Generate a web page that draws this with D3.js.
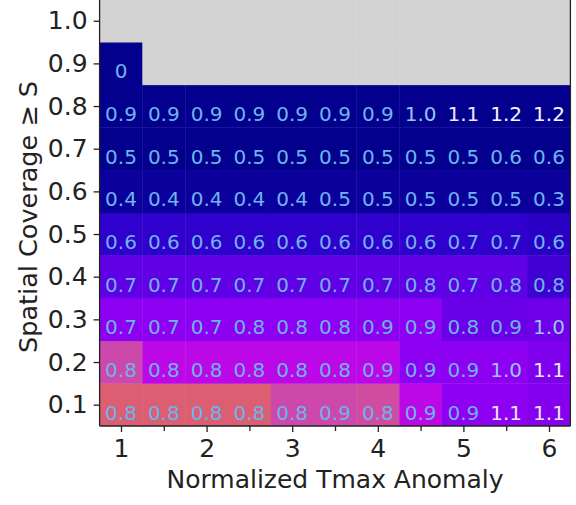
<!DOCTYPE html>
<html>
<head>
<meta charset="utf-8">
<script src="https://cdn.jsdelivr.net/npm/d3@7"></script>
<style>
  html, body { margin: 0; padding: 0; background: #ffffff; }
  svg { display: block; }
  text { font-family: "DejaVu Sans", sans-serif; }
</style>
</head>
<body>
<svg id="chart" width="576" height="505"></svg>
<script>
// ---- data ----
const anomalyBins = [1, 1.5, 2, 2.5, 3, 3.5, 4, 4.5, 5, 5.5, 6];
const coverageBins = [0.1, 0.2, 0.3, 0.4, 0.5, 0.6, 0.7, 0.8, 0.9, 1.0];
const xTickValues = [1, 2, 3, 4, 5, 6];
const xMinorTickValues = [1.5, 2.5, 3.5, 4.5, 5.5];
const yTickValues = [0.1, 0.2, 0.3, 0.4, 0.5, 0.6, 0.7, 0.8, 0.9, 1.0];
const xLabel = "Normalized Tmax Anomaly";
const yLabel = "Spatial Coverage \u2265 S";

// annotated values, one row per coverage bin (0.1 -> 1.0); null = no data
const cov01 = [0.8, 0.8, 0.8, 0.8, 0.8, 0.9, 0.8, 0.9, 0.9, 1.1, 1.1];
const cov02 = [0.8, 0.8, 0.8, 0.8, 0.8, 0.8, 0.9, 0.9, 0.9, 1.0, 1.1];
const cov03 = [0.7, 0.7, 0.7, 0.8, 0.8, 0.8, 0.9, 0.9, 0.8, 0.9, 1.0];
const cov04 = [0.7, 0.7, 0.7, 0.7, 0.7, 0.7, 0.7, 0.8, 0.7, 0.8, 0.8];
const cov05 = [0.6, 0.6, 0.6, 0.6, 0.6, 0.6, 0.6, 0.6, 0.7, 0.7, 0.6];
const cov06 = [0.4, 0.4, 0.4, 0.4, 0.4, 0.5, 0.5, 0.5, 0.5, 0.5, 0.3];
const cov07 = [0.5, 0.5, 0.5, 0.5, 0.5, 0.5, 0.5, 0.5, 0.5, 0.6, 0.6];
const cov08 = [0.9, 0.9, 0.9, 0.9, 0.9, 0.9, 0.9, 1.0, 1.1, 1.2, 1.2];
const cov09 = [0, null, null, null, null, null, null, null, null, null, null];
const cov10 = [null, null, null, null, null, null, null, null, null, null, null];
const cellValues = [cov01, cov02, cov03, cov04, cov05, cov06, cov07, cov08, cov09, cov10];

// colour-mapped quantity (normalised 0..1), same layout
const shade01 = [1.0, 1.0, 1.0, 1.0, 0.88, 0.88, 0.9, 0.76, 0.6, 0.6, 0.57];
const shade02 = [0.88, 0.76, 0.76, 0.76, 0.76, 0.76, 0.76, 0.6, 0.6, 0.6, 0.55];
const shade03 = [0.6, 0.6, 0.6, 0.6, 0.6, 0.6, 0.6, 0.6, 0.48, 0.48, 0.5];
const shade04 = [0.45, 0.45, 0.45, 0.45, 0.45, 0.45, 0.45, 0.45, 0.45, 0.45, 0.35];
const shade05 = [0.3, 0.3, 0.3, 0.3, 0.3, 0.3, 0.3, 0.3, 0.3, 0.3, 0.27];
const shade06 = [0.1, 0.1, 0.1, 0.1, 0.1, 0.1, 0.1, 0.1, 0.1, 0.1, 0.1];
const shade07 = [0.03, 0.03, 0.03, 0.03, 0.03, 0.03, 0.03, 0.03, 0.03, 0.03, 0.03];
const shade08 = [0.03, 0.03, 0.03, 0.03, 0.03, 0.03, 0.03, 0.03, 0.03, 0.03, 0.03];
const shade09 = [0.03, null, null, null, null, null, null, null, null, null, null];
const shade10 = [null, null, null, null, null, null, null, null, null, null, null];
const cellShades = [shade01, shade02, shade03, shade04, shade05, shade06, shade07, shade08, shade09, shade10];

// ---- layout ----
const svg = d3.select("#chart");
const plot = { left: 99.6, right: 570.4, top: -0.6, bottom: 426 };

const x = d3.scaleLinear().domain([0.75, 6.25]).range([plot.left, plot.right]);
const y = d3.scaleLinear().domain([0.05, 1.05]).range([plot.bottom, plot.top]);

const fillColor = d3.scaleLinear()
  .domain([0, 0.1, 0.3, 0.45, 0.6, 0.76, 0.88, 1])
  .range(["#000088", "#0c009c", "#3000cc", "#6000e4", "#8e00f2", "#bc08e6", "#cc48aa", "#dc5e72"])
  .clamp(true);
const textColor = d3.scaleLinear()
  .domain([0.9, 1.0, 1.1, 1.2])
  .range(["#6cb4ee", "#98c4f2", "#eee6fa", "#f6f6ff"])
  .clamp(true);
const missingColor = "#d3d3d3";

const cells = [];
coverageBins.forEach((c, i) => {
  anomalyBins.forEach((a, j) => {
    cells.push({ a, c, v: cellValues[i][j], s: cellShades[i][j] });
  });
});

const halfW = (x(1.5) - x(1)) / 2;
const halfH = (y(0.1) - y(0.2)) / 2;

const g = svg.append("g");
g.append("clipPath").attr("id", "clip").append("rect")
  .attr("x", plot.left).attr("y", plot.top)
  .attr("width", plot.right - plot.left).attr("height", plot.bottom - plot.top);

const cellLayer = g.append("g").attr("clip-path", "url(#clip)");
cellLayer.selectAll("rect.cell").data(cells).join("rect")
  .attr("class", "cell")
  .attr("x", d => x(d.a) - halfW)
  .attr("y", d => y(d.c) - halfH)
  .attr("width", halfW * 2 + 0.4)
  .attr("height", halfH * 2 + 0.4)
  .attr("fill", d => d.s == null ? missingColor : fillColor(d.s));

cellLayer.selectAll("text.val").data(cells.filter(d => d.v != null)).join("text")
  .attr("class", "val")
  .attr("x", d => x(d.a))
  .attr("y", d => y(d.c) + 8)
  .attr("text-anchor", "middle")
  .attr("dominant-baseline", "central")
  .attr("font-size", 20)
  .attr("fill", d => textColor(d.v))
  .text(d => d3.format(d.v === 0 ? "d" : ".1f")(d.v));

// ---- axes ----
const xAxis = d3.axisBottom(x).tickValues(xTickValues).tickFormat(d3.format("d"))
  .tickSize(6).tickPadding(7);
const xMinor = d3.axisBottom(x).tickValues(xMinorTickValues).tickFormat("")
  .tickSize(5);
const yAxis = d3.axisLeft(y).tickValues(yTickValues).tickFormat(d3.format(".1f"))
  .tickSize(6).tickPadding(6);

function styleAxis(sel, fs) {
  sel.select(".domain").remove();
  sel.selectAll("line").attr("stroke", "#222").attr("stroke-width", 1.3);
  sel.selectAll("text").attr("fill", "#222").attr("font-size", fs)
    .attr("font-family", "DejaVu Sans, sans-serif");
}

svg.append("g").attr("transform", `translate(0,${plot.bottom})`).call(xAxis).call(s => styleAxis(s, 25));
svg.append("g").attr("transform", `translate(0,${plot.bottom})`).call(xMinor).call(s => styleAxis(s, 25));
svg.append("g").attr("transform", `translate(${plot.left},0)`).call(yAxis).call(s => styleAxis(s, 25));

// spines
svg.append("line").attr("x1", plot.left).attr("x2", plot.left).attr("y1", plot.top).attr("y2", plot.bottom)
  .attr("stroke", "#222").attr("stroke-width", 1.3);
svg.append("line").attr("x1", plot.left).attr("x2", plot.right).attr("y1", plot.bottom).attr("y2", plot.bottom)
  .attr("stroke", "#222").attr("stroke-width", 1.3);
svg.append("line").attr("x1", plot.right).attr("x2", plot.right).attr("y1", plot.top).attr("y2", plot.bottom)
  .attr("stroke", "#222").attr("stroke-width", 1.3);

// axis labels
svg.append("text")
  .attr("x", (plot.left + plot.right) / 2)
  .attr("y", 488)
  .attr("text-anchor", "middle")
  .attr("font-size", 25)
  .attr("fill", "#222")
  .text(xLabel);

svg.append("text")
  .attr("transform", `translate(37,217) rotate(-90)`)
  .attr("text-anchor", "middle")
  .attr("font-size", 25.5)
  .attr("fill", "#222")
  .text(yLabel);
</script>
</body>
</html>
